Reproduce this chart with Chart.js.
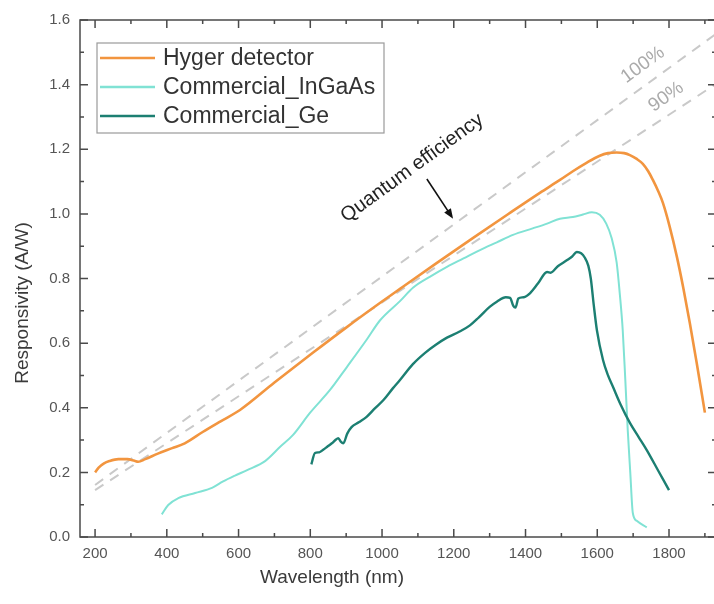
<!DOCTYPE html>
<html><head><meta charset="utf-8">
<script src="https://cdn.jsdelivr.net/npm/chart.js@4.4.0/dist/chart.umd.min.js"></script>
<style>html,body{margin:0;padding:0;background:#fff;overflow:hidden;width:714px;height:604px}#wrap{width:720px;height:604px;position:relative}</style>
</head><body><div id="wrap"><canvas id="c" width="720" height="604"></canvas></div>
<script>
// ---- data ----
const hygerWl = [200,210,225,240,265,290,310,320,340,375,415,450,500,550,604,700,807,900,994,1050,1150,1253,1350,1440,1496,1532,1570,1607,1630,1654,1675,1691,1710,1727,1742,1755,1770,1783,1802,1822,1840,1858,1877,1900];
const hygerR  = [0.20,0.215,0.228,0.235,0.241,0.241,0.236,0.233,0.241,0.258,0.275,0.29,0.325,0.358,0.393,0.478,0.57,0.648,0.724,0.768,0.846,0.925,0.998,1.065,1.105,1.132,1.158,1.18,1.188,1.19,1.188,1.182,1.17,1.155,1.132,1.105,1.07,1.034,0.96,0.867,0.77,0.662,0.54,0.385];

const ingaasWl = [386,404,432,479,526,557,590,624,674,716,752,799,855,902,958,994,1050,1087,1133,1181,1227,1273,1320,1365,1420,1460,1496,1532,1560,1585,1607,1625,1640,1654,1663,1671,1678,1685,1692,1699,1710,1738];
const ingaasR  = [0.07,0.099,0.12,0.136,0.152,0.172,0.19,0.207,0.235,0.279,0.316,0.384,0.455,0.526,0.612,0.67,0.73,0.772,0.805,0.836,0.862,0.888,0.912,0.935,0.955,0.97,0.985,0.99,0.998,1.005,0.997,0.97,0.925,0.85,0.75,0.64,0.49,0.33,0.2,0.075,0.05,0.03];

const geWl = [803,813,825,836,848,860,870,878,885,892,903,915,935,957,980,1004,1030,1050,1086,1120,1150,1181,1215,1245,1270,1300,1320,1345,1357,1366,1372,1380,1395,1413,1435,1460,1470,1490,1516,1530,1543,1555,1565,1575,1582,1590,1599,1616,1630,1644,1665,1691,1715,1738,1770,1800];
const geR  = [0.225,0.26,0.262,0.27,0.28,0.29,0.30,0.306,0.295,0.29,0.32,0.34,0.355,0.372,0.398,0.424,0.46,0.486,0.535,0.57,0.595,0.617,0.635,0.655,0.68,0.712,0.728,0.742,0.74,0.715,0.71,0.738,0.742,0.755,0.785,0.82,0.818,0.838,0.857,0.868,0.882,0.878,0.865,0.84,0.80,0.72,0.64,0.548,0.50,0.464,0.41,0.353,0.31,0.269,0.205,0.145];

const qe100Wl = [200,1931];
const qe100R  = [0.161,1.557];
const qe90Wl  = [200,1931];
const qe90R   = [0.145,1.402];

const xTickValues = [200,400,600,800,1000,1200,1400,1600,1800];
const yTickValues = [0,0.2,0.4,0.6,0.8,1.0,1.2,1.4,1.6];
const legendLabels = ['Hyger detector','Commercial_InGaAs','Commercial_Ge'];

const zip = (a,b)=>a.map((v,i)=>({x:v,y:b[i]}));
const FONT = '"Liberation Sans", Arial, sans-serif';
const colors = {hyger:'#f2953f', ingaas:'#80e2d4', ge:'#1c7f72', dash:'#c9c9c9'};

const overlay = {
  id:'overlay',
  afterDraw(chart){
    const ctx = chart.ctx, ca = chart.chartArea;
    const xs = chart.scales.x, ys = chart.scales.y;
    ctx.save();
    // frame
    ctx.strokeStyle = '#4a4a4a'; ctx.lineWidth = 1.5;
    ctx.strokeRect(ca.left, ca.top, ca.right-ca.left, ca.bottom-ca.top);
    // ticks
    ctx.beginPath();
    const tx = (v,len)=>{const p=xs.getPixelForValue(v);
      ctx.moveTo(p,ca.bottom);ctx.lineTo(p,ca.bottom-len);
      ctx.moveTo(p,ca.top);ctx.lineTo(p,ca.top+len);};
    const ty = (v,len)=>{const p=ys.getPixelForValue(v);
      ctx.moveTo(ca.left,p);ctx.lineTo(ca.left+len,p);
      ctx.moveTo(ca.right,p);ctx.lineTo(ca.right-len,p);};
    xTickValues.forEach(v=>tx(v,8));
    for(let v=300; v<=1900; v+=200) tx(v,4);
    yTickValues.forEach(v=>ty(v,8));
    for(let k=1;k<16;k+=2) ty(k/10,4);
    ctx.stroke();

    // axis titles
    ctx.fillStyle = '#3a3a3a';
    ctx.font = '19px '+FONT;
    ctx.textAlign='center'; ctx.textBaseline='middle';
    ctx.fillText('Wavelength (nm)', 332, 578);
    ctx.save(); ctx.translate(23,303); ctx.rotate(-Math.PI/2);
    ctx.fillText('Responsivity (A/W)', 0, 0); ctx.restore();

    // legend
    const lx=97, ly=43, lw=287, lh=90;
    ctx.fillStyle='#fff'; ctx.fillRect(lx,ly,lw,lh);
    ctx.strokeStyle='#9a9a9a'; ctx.lineWidth=1.2; ctx.strokeRect(lx,ly,lw,lh);
    const lcol=[colors.hyger,colors.ingaas,colors.ge];
    const lyy=[58,87,116];
    ctx.font='23px '+FONT; ctx.textAlign='left'; ctx.textBaseline='middle';
    legendLabels.forEach((t,i)=>{
      ctx.strokeStyle=lcol[i]; ctx.lineWidth=2.5; ctx.beginPath();
      ctx.moveTo(100,lyy[i]); ctx.lineTo(155,lyy[i]); ctx.stroke();
      ctx.fillStyle='#333'; ctx.fillText(t,163,lyy[i]+1);
    });

    // Quantum efficiency annotation
    const ang = -36*Math.PI/180;
    ctx.save();
    ctx.translate(xs.getPixelForValue(1084), ys.getPixelForValue(1.142));
    ctx.rotate(ang);
    ctx.fillStyle='#222'; ctx.font='20px '+FONT; ctx.textAlign='center';
    ctx.fillText('Quantum efficiency',0,0);
    ctx.restore();
    // arrow
    const ax1=xs.getPixelForValue(1125), ay1=ys.getPixelForValue(1.108);
    const ax2=xs.getPixelForValue(1198), ay2=ys.getPixelForValue(0.985);
    ctx.strokeStyle='#111'; ctx.fillStyle='#111'; ctx.lineWidth=1.6;
    const a=Math.atan2(ay2-ay1, ax2-ax1);
    ctx.beginPath(); ctx.moveTo(ax1,ay1); ctx.lineTo(ax2-7*Math.cos(a),ay2-7*Math.sin(a)); ctx.stroke();
    ctx.beginPath(); ctx.moveTo(ax2,ay2);
    ctx.lineTo(ax2-10*Math.cos(a)+4*Math.sin(a), ay2-10*Math.sin(a)-4*Math.cos(a));
    ctx.lineTo(ax2-10*Math.cos(a)-4*Math.sin(a), ay2-10*Math.sin(a)+4*Math.cos(a));
    ctx.closePath(); ctx.fill();

    // percent labels
    ctx.fillStyle='#ababab'; ctx.font='19px '+FONT; ctx.textAlign='center';
    [['100%',1727,1.461],['90%',1792,1.362]].forEach(([t,wx,wy])=>{
      ctx.save(); ctx.translate(xs.getPixelForValue(wx), ys.getPixelForValue(wy));
      ctx.rotate(ang); ctx.fillText(t,0,0); ctx.restore();
    });
    ctx.restore();
  }
};

new Chart(document.getElementById('c'), {
  type:'line',
  data:{datasets:[
    {label:'100%', data:zip(qe100Wl,qe100R), borderColor:colors.dash, borderWidth:2, borderDash:[10,8], pointRadius:0, order:5},
    {label:'90%', data:zip(qe90Wl,qe90R), borderColor:colors.dash, borderWidth:2, borderDash:[10,8], pointRadius:0, order:4},
    {label:legendLabels[1], data:zip(ingaasWl,ingaasR), borderColor:colors.ingaas, borderWidth:2, pointRadius:0, cubicInterpolationMode:'monotone', order:3},
    {label:legendLabels[0], data:zip(hygerWl,hygerR), borderColor:colors.hyger, borderWidth:2.6, pointRadius:0, cubicInterpolationMode:'monotone', order:2},
    {label:legendLabels[2], data:zip(geWl,geR), borderColor:colors.ge, borderWidth:2.4, pointRadius:0, cubicInterpolationMode:'monotone', order:1}
  ]},
  options:{
    responsive:false, animation:false, parsing:true,
    layout:{padding:{top:20,right:4,left:0,bottom:0}},
    plugins:{legend:{display:false}, tooltip:{enabled:false}},
    scales:{
      x:{type:'linear', min:158, max:1931,
        grid:{display:false, drawTicks:false}, border:{display:false},
        afterBuildTicks:s=>{s.ticks=xTickValues.map(v=>({value:v}));},
        afterFit:s=>{s.height=67;},
        ticks:{padding:8, color:'#555', font:{family:FONT,size:15}, maxRotation:0, autoSkip:false, callback:v=>String(v)}
      },
      y:{type:'linear', min:0, max:1.6,
        grid:{display:false, drawTicks:false}, border:{display:false},
        afterBuildTicks:s=>{s.ticks=yTickValues.map(v=>({value:v}));},
        afterFit:s=>{s.width=80;},
        ticks:{padding:10, color:'#555', font:{family:FONT,size:15}, autoSkip:false, callback:v=>v.toFixed(1)}
      }
    }
  },
  plugins:[overlay]
});
</script></body></html>
